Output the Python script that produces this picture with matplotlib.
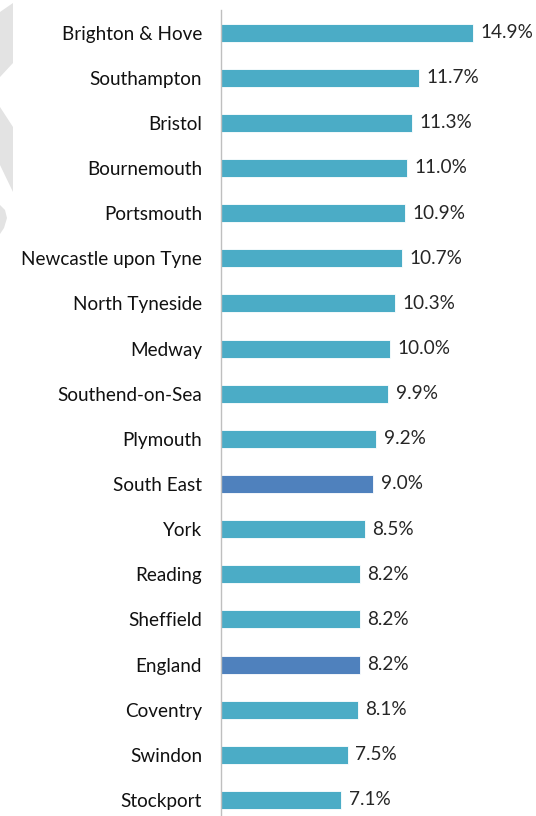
import matplotlib.pyplot as plt
from matplotlib.patches import Polygon

# data (top to bottom)
areas = ["Brighton & Hove", "Southampton", "Bristol", "Bournemouth", "Portsmouth",
         "Newcastle upon Tyne", "North Tyneside", "Medway", "Southend-on-Sea",
         "Plymouth", "South East", "York", "Reading", "Sheffield", "England",
         "Coventry", "Swindon", "Stockport"]
values = [14.9, 11.7, 11.3, 11.0, 10.9, 10.7, 10.3, 10.0, 9.9,
          9.2, 9.0, 8.5, 8.2, 8.2, 8.2, 8.1, 7.5, 7.1]
benchmarks = ["South East", "England"]

TEAL = "#4BACC6"
BLUE = "#4F81BD"

plt.rcParams['font.family'] = ['Lato', 'DejaVu Sans']

W, H = 536, 816
fig = plt.figure(figsize=(W / 100, H / 100), dpi=100)
ax = fig.add_axes([221 / W, 0, (W - 221) / W, (H - 10) / H])

colors = [BLUE if a in benchmarks else TEAL for a in areas]
ypos = list(range(len(areas)))
ax.barh(ypos, values, height=0.4, color=colors, edgecolor="white", linewidth=0.6)

for y, v in zip(ypos, values):
    ax.text(v + 0.45, y, f"{v:.1f}%", va="center", ha="left", fontsize=13.7, color="#262626")

ax.set_yticks(ypos)
ax.set_yticklabels(areas, fontsize=13.6, color="#111111")
ax.tick_params(axis="y", length=0, pad=13.7)
ax.set_xticks([])
ax.set_xlim(0, (W - 221) / 16.9)
ax.set_ylim(17 + 16 / 45.1, -0.5)

for s in ["top", "right", "bottom"]:
    ax.spines[s].set_visible(False)
ax.spines["left"].set_color("#BFBFBF")
ax.spines["left"].set_linewidth(1.0)

# faint watermark shapes on the left edge
def px(points):
    return [(x / W, 1 - y / H) for x, y in points]

shapes = [
    [(0, 12), (13, 3), (13, 63), (0, 77)],
    [(0, 107), (13, 127), (13, 192), (0, 165)],
    [(0, 205), (5, 210), (7, 218), (4, 228), (0, 234)],
]
for pts in shapes:
    fig.patches.append(Polygon(px(pts), closed=True, transform=fig.transFigure,
                               facecolor="#E3E3E3", edgecolor="none"))

fig.savefig("out.png", dpi=100)
